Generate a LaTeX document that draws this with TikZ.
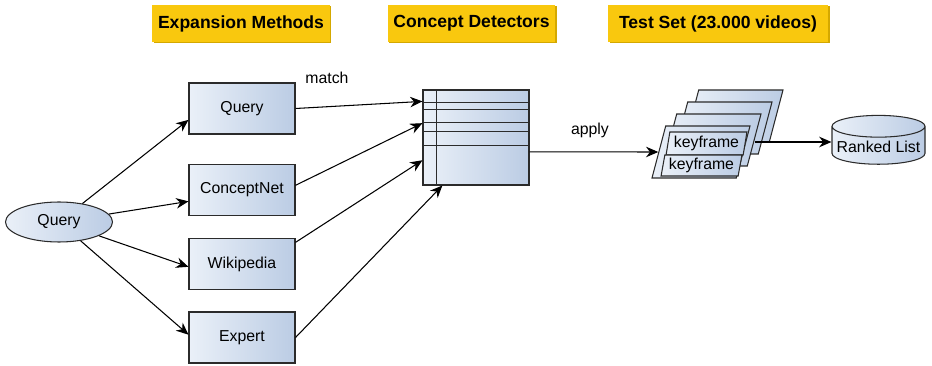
\documentclass[tikz,border=0pt]{standalone}
\usepackage{fontspec}
\setmainfont{Liberation Sans}
\usetikzlibrary{shapes.geometric,arrows.meta,shadows}
\definecolor{boxlight}{HTML}{EAF0F8}
\definecolor{boxdark}{HTML}{BBCCE4}
\definecolor{headfill}{HTML}{F9C80E}
\definecolor{headshade}{HTML}{D4A800}
\definecolor{edge}{HTML}{2B2B2B}
\begin{document}
\begin{tikzpicture}[
  font=\fontsize{9}{11}\selectfont,
  header/.style={fill=headfill,minimum height=.74cm,font=\fontsize{10}{12}\selectfont\bfseries,
    drop shadow={shadow xshift=.03cm,shadow yshift=-.03cm,fill=headshade,opacity=1}},
  blue/.style={draw=edge,semithick,left color=boxlight,right color=boxdark},
  method/.style={blue,minimum width=2.12cm,minimum height=1.02cm},
  frame/.style={blue,trapezium,trapezium left angle=79,trapezium right angle=101,
    trapezium stretches=true,inner sep=1pt},
  link/.style={-{Stealth[length=7pt,width=6pt]},line width=.6pt}]
\useasboundingbox (0,0) rectangle (18.64,7.3);
\node[header,minimum width=3.44cm] (hexp) at (4.82,6.83) {Expansion Methods};
\node[header,minimum width=3.26cm] (hdet) at (9.43,6.83) {Concept Detectors};
\node[header,minimum width=4.4cm] (htest) at (14.36,6.83) {Test Set (23.000 videos)};
\node[blue,ellipse,minimum width=2.14cm,minimum height=.8cm,inner sep=0pt] (query) at (1.18,2.86) {Query};
\node[method] (mquery) at (4.84,5.13) {Query};
\node[method] (mcnet) at (4.84,3.5) {ConceptNet};
\node[method] (mwiki) at (4.84,2.02) {Wikipedia};
\node[method] (mexpert) at (4.84,.55) {Expert};
\draw[link] (query) -- (mquery.192);
\draw[link] (query) -- (mcnet.192);
\draw[link] (query) -- (mwiki.183);
\draw[link] (query) -- (mexpert.177);
\node[blue,minimum width=2.12cm,minimum height=1.9cm] (det) at (9.52,4.55) {};
\draw[edge,thick] ([xshift=.28cm]det.north west) -- ([xshift=.28cm]det.south west);
\foreach \d in {.26,.40,.66,.84,1.12}
  \draw[edge,thick] ([yshift=-\d cm]det.north west) -- ([yshift=-\d cm]det.north east);
\draw[link] (mquery.east) -- (det.146);
\draw[link] (mcnet.5) -- (det.165);
\draw[link] (mwiki.22) -- (det.203);
\draw[link] (mexpert.east) -- (det.235);
\node (match) at (6.54,5.74) {match};
\node (apply) at (11.8,4.7) {apply};
\foreach \i in {3,2,1}
  \node[frame,minimum width=1.96cm,minimum height=1.04cm] (f\i) at (14.02+.22*\i,4.26+.24*\i) {};
\node[frame,minimum width=1.96cm,minimum height=1.04cm] (f0) at (14.02,4.26) {};
\node[frame,minimum width=1.62cm,minimum height=.46cm] (kf1) at (14.13,4.43) {keyframe};
\node[frame,minimum width=1.62cm,minimum height=.42cm] (kf2) at (14.03,3.99) {keyframe};
\draw[link] (det.-15) -- (f0.west);
\node[blue,cylinder,shape border rotate=90,aspect=.25,minimum width=1.86cm,
  inner xsep=1pt,inner ysep=2pt] (list) at (17.57,4.36) {Ranked List};
\coordinate (out) at ([yshift=-.04cm]f1.east);
\draw[link] (out) -- (list.west |- out);
\end{tikzpicture}
\end{document}
